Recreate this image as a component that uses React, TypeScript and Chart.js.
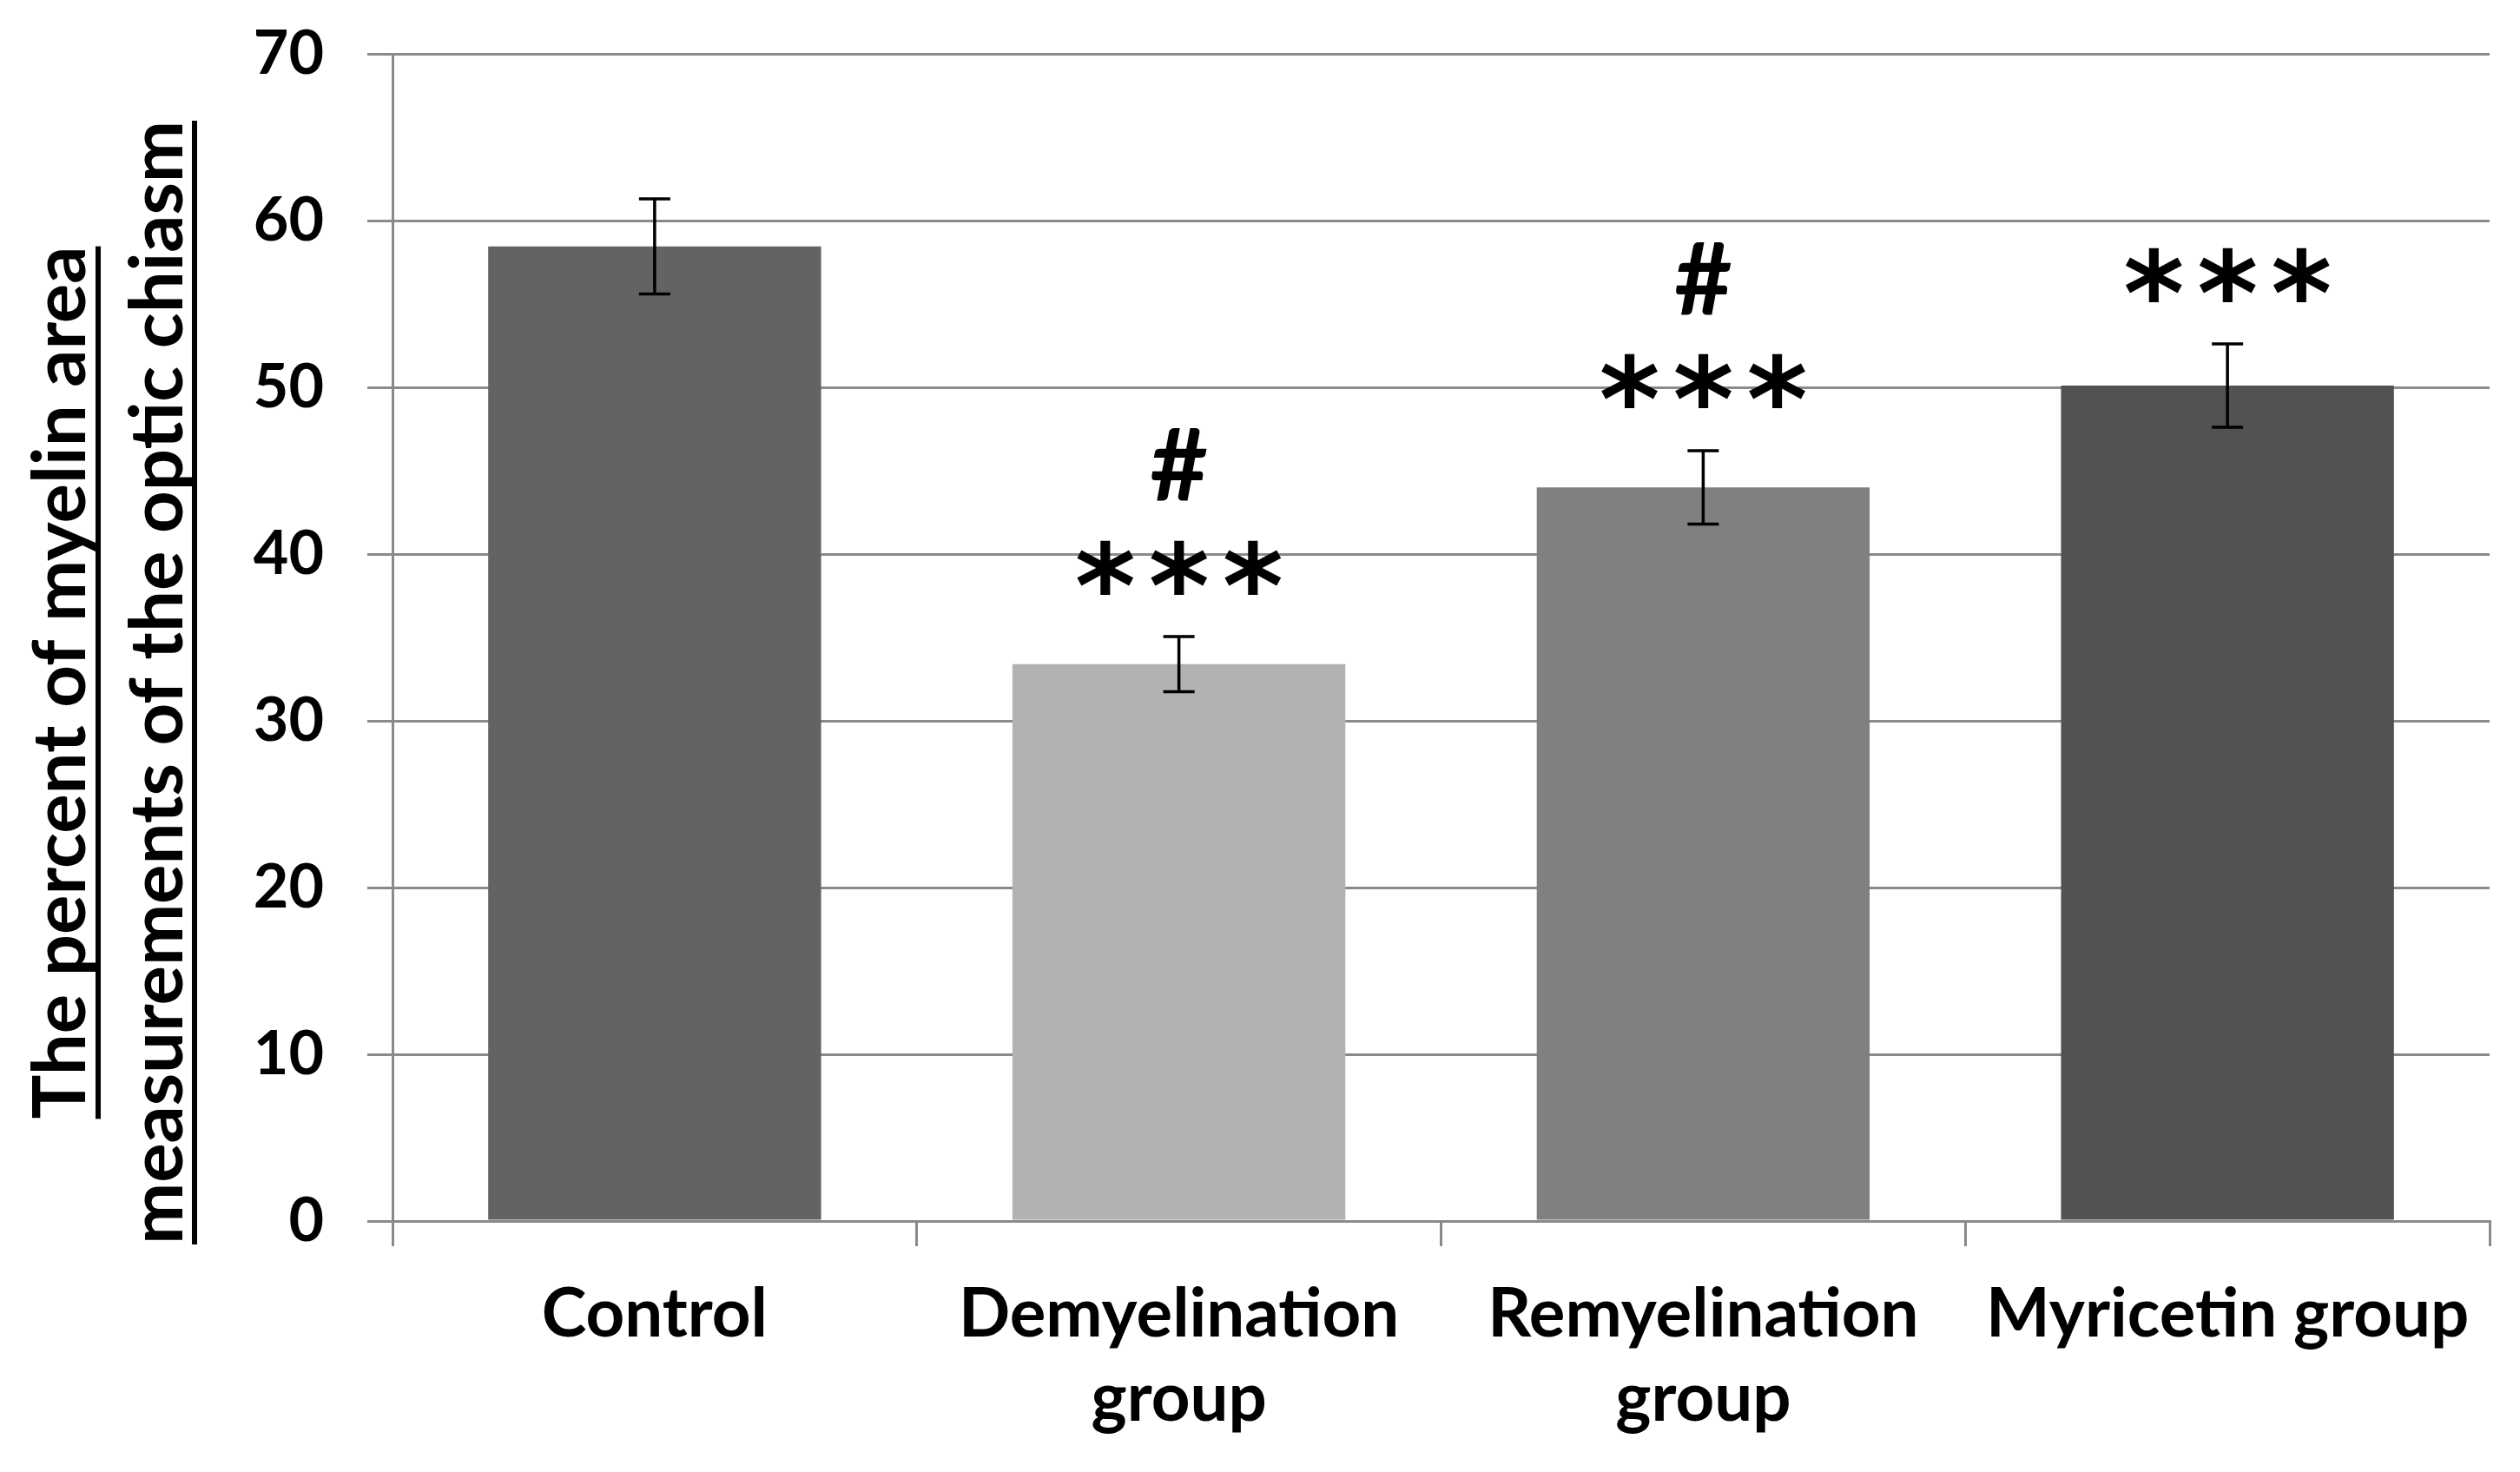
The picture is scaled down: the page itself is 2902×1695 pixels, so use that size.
import React, { useEffect, useRef } from 'react';
import { Chart, registerables } from 'chart.js';

Chart.register(...registerables);

const categories: (string | string[])[] = [
  'Control',
  ['Demyelination', 'group'],
  ['Remyelination', 'group'],
  'Myricetin group',
];
const meanValues = [58.45, 33.4, 44.0, 50.1];
const errorValues = [2.85, 1.65, 2.2, 2.5];
const starLabels = ['', '***', '***', '***'];
const hashLabels = ['', '#', '#', ''];
const yMin = 0;
const yMax = 70;
const yStep = 10;
const yTitleLines = ['The percent of myelin area', 'measurements of the optic chiasm'];
const barColors = ['#636363', '#b2b2b2', '#808080', '#525252'];

const FONT = 'Lato, "Open Sans", sans-serif';
const GRID = '#8a8a8a';

function drawGlyphCentered(ctx: CanvasRenderingContext2D, ch: string, cx: number, cy: number, family: string, targetH: number) {
  ctx.font = `bold 100px ${family}`;
  let m = ctx.measureText(ch);
  const h0 = m.actualBoundingBoxAscent + m.actualBoundingBoxDescent;
  const size = h0 > 0 ? (100 * targetH) / h0 : 100;
  ctx.font = `bold ${size}px ${family}`;
  m = ctx.measureText(ch);
  const w = m.actualBoundingBoxLeft + m.actualBoundingBoxRight;
  const x = cx - w / 2 + m.actualBoundingBoxLeft;
  const y = cy + (m.actualBoundingBoxAscent - m.actualBoundingBoxDescent) / 2;
  ctx.textAlign = 'left';
  ctx.textBaseline = 'alphabetic';
  ctx.fillText(ch, x, y);
}

const overlayPlugin = {
  id: 'overlay',
  afterDatasetsDraw(chart: any) {
    const { ctx, scales } = chart;
    const x = scales.x;
    const y = scales.y;
    ctx.save();
    meanValues.forEach((v, i) => {
      const cx = x.getPixelForValue(i);
      const top = y.getPixelForValue(v + errorValues[i]);
      const bot = y.getPixelForValue(v - errorValues[i]);
      ctx.strokeStyle = '#000';
      ctx.lineWidth = 3.5;
      ctx.beginPath();
      ctx.moveTo(cx, top);
      ctx.lineTo(cx, bot);
      ctx.moveTo(cx - 18, top);
      ctx.lineTo(cx + 18, top);
      ctx.moveTo(cx - 18, bot);
      ctx.lineTo(cx + 18, bot);
      ctx.stroke();

      ctx.fillStyle = '#000';
      const starY = top - 80;
      const stars = starLabels[i];
      if (stars) {
        const n = stars.length;
        for (let k = 0; k < n; k++) {
          const sx = cx + (k - (n - 1) / 2) * 85;
          drawGlyphCentered(ctx, stars[k], sx, starY, '"DejaVu Sans"', 63);
        }
      }
      if (hashLabels[i]) {
        drawGlyphCentered(ctx, hashLabels[i], cx, starY - 118, FONT, 83);
      }
    });
    ctx.restore();
  },
  afterDraw(chart: any) {
    const { ctx } = chart;
    ctx.save();
    ctx.fillStyle = '#000';
    ctx.font = `bold 85px ${FONT}`;
    const centerY = 786;
    const baselines = [98, 210];
    const underlines = [113, 224];
    yTitleLines.forEach((line, i) => {
      ctx.save();
      ctx.translate(baselines[i], centerY);
      ctx.rotate(-Math.PI / 2);
      ctx.textAlign = 'center';
      ctx.textBaseline = 'alphabetic';
      ctx.fillText(line, 0, 0);
      const w = ctx.measureText(line).width;
      ctx.fillRect(-w / 2, underlines[i] - baselines[i] - 3, w, 6);
      ctx.restore();
    });
    ctx.restore();
  },
};

export default function App() {
  const canvasRef = useRef<HTMLCanvasElement | null>(null);

  useEffect(() => {
    document.body.style.margin = '0';
    const canvas = canvasRef.current;
    if (!canvas) return;
    const chart = new Chart(canvas, {
      type: 'bar',
      data: {
        labels: categories,
        datasets: [
          {
            data: meanValues,
            backgroundColor: barColors,
            borderWidth: 0,
            barPercentage: 0.635,
            categoryPercentage: 1,
          },
        ],
      },
      options: {
        animation: false,
        responsive: false,
        devicePixelRatio: 1,
        layout: { padding: { left: 0, right: 35, top: 62, bottom: 0 } },
        plugins: {
          legend: { display: false },
          tooltip: { enabled: false },
          title: { display: false },
        },
        scales: {
          x: {
            offset: true,
            grid: {
              display: true,
              offset: true,
              drawOnChartArea: false,
              drawTicks: true,
              tickLength: 29,
              color: GRID,
              lineWidth: 3,
            },
            border: { display: true, color: GRID, width: 3 },
            ticks: {
              color: '#000',
              font: { family: FONT, size: 78, weight: 'bold', lineHeight: 1.25 },
              padding: 30,
              maxRotation: 0,
              autoSkip: false,
            },
            afterFit: (scale: any) => {
              scale.height = 289;
              scale.paddingLeft = 0;
              scale.paddingRight = 0;
            },
          },
          y: {
            min: yMin,
            max: yMax,
            grid: {
              color: GRID,
              lineWidth: 3,
              tickLength: 29,
              drawTicks: true,
            },
            border: { display: true, color: GRID, width: 3 },
            ticks: {
              stepSize: yStep,
              color: '#000',
              font: { family: FONT, size: 70, weight: 'bold' },
              padding: 50,
            },
            afterFit: (scale: any) => {
              scale.width = 452;
              scale.paddingTop = 0;
              scale.paddingBottom = 0;
            },
          },
        },
      },
      plugins: [overlayPlugin],
    } as any);
    return () => chart.destroy();
  }, []);

  return (
    <div style={{ width: 2902, height: 1695, background: '#fff' }}>
      <canvas ref={canvasRef} width={2902} height={1695} style={{ display: 'block' }} />
    </div>
  );
}
